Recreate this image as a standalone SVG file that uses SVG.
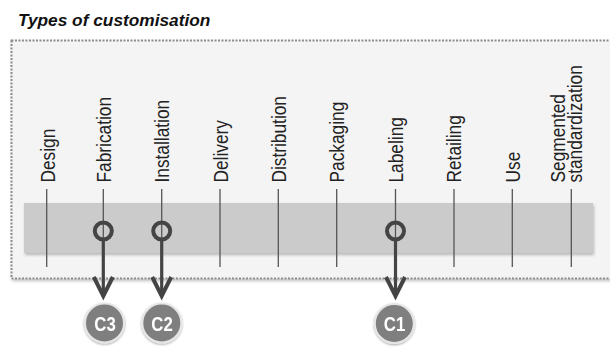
<svg xmlns="http://www.w3.org/2000/svg" width="610" height="347" viewBox="0 0 610 347">
  <style>
    .title { font-family: "Liberation Sans", Arial, sans-serif; font-size: 17.3px; font-weight: bold; font-style: italic; fill: #111; }
    .stage { font-family: "Liberation Sans", Arial, sans-serif; font-size: 20px; fill: #222; }
    .tick { stroke: #555; stroke-width: 1.3; }
    .ring { fill: none; stroke: #444; stroke-width: 4; }
    .shaft { fill: none; stroke: #444; stroke-width: 3.2; }
    .badge { fill: #7f7f7f; stroke: #e6e6e6; stroke-width: 2; }
    .badge-text { font-family: "Liberation Sans", Arial, sans-serif; font-size: 21px; font-weight: bold; fill: #fff; }
  </style>
  <defs>
    <filter id="soft" x="-10%" y="-10%" width="120%" height="130%">
      <feDropShadow dx="1" dy="2" stdDeviation="1.5" flood-color="#000" flood-opacity="0.25"/>
    </filter>
    <filter id="badgeShadow" x="-30%" y="-30%" width="160%" height="160%">
      <feDropShadow dx="0" dy="1" stdDeviation="1.2" flood-color="#000" flood-opacity="0.35"/>
    </filter>
    <marker id="chevron" markerUnits="userSpaceOnUse" markerWidth="30" markerHeight="30" refX="0" refY="0" orient="auto" overflow="visible">
      <path d="M-19,-9.5 L0,0 L-19,9.5" fill="none" stroke="#444" stroke-width="4" stroke-linejoin="miter"/>
    </marker>
  </defs>

  <text class="title" x="18" y="25.7">Types of customisation</text>

  <!-- outer dotted frame -->
  <g id="frame">
    <rect x="11.5" y="40.5" width="610" height="238" fill="#f4f4f4" stroke="#8c8c8c" stroke-width="2" stroke-dasharray="2 1.5" filter="url(#soft)"/>
  </g>

  <!-- shaded band behind the stage ticks -->
  <g id="band">
    <rect x="24" y="203" width="569" height="50" fill="#cbcbcb" filter="url(#soft)"/>
  </g>

  <!-- stages: label + tick -->
  <g id="stage-design">
    <line class="tick" x1="46.7" y1="189" x2="46.7" y2="267"/>
    <text class="stage" transform="translate(54.5,182.5) rotate(-90) scale(0.865,1)">Design</text>
  </g>
  <g id="stage-fabrication">
    <line class="tick" x1="103.3" y1="189" x2="103.3" y2="267"/>
    <text class="stage" transform="translate(110.5,182.5) rotate(-90) scale(0.865,1)">Fabrication</text>
  </g>
  <g id="stage-installation">
    <line class="tick" x1="161.7" y1="189" x2="161.7" y2="267"/>
    <text class="stage" transform="translate(169,182.5) rotate(-90) scale(0.865,1)">Installation</text>
  </g>
  <g id="stage-delivery">
    <line class="tick" x1="220" y1="189" x2="220" y2="267"/>
    <text class="stage" transform="translate(227.5,182.5) rotate(-90) scale(0.865,1)">Delivery</text>
  </g>
  <g id="stage-distribution">
    <line class="tick" x1="278.3" y1="189" x2="278.3" y2="267"/>
    <text class="stage" transform="translate(285.5,182.5) rotate(-90) scale(0.865,1)">Distribution</text>
  </g>
  <g id="stage-packaging">
    <line class="tick" x1="336.7" y1="189" x2="336.7" y2="267"/>
    <text class="stage" transform="translate(344,182.5) rotate(-90) scale(0.865,1)">Packaging</text>
  </g>
  <g id="stage-labeling">
    <line class="tick" x1="395.5" y1="189" x2="395.5" y2="267"/>
    <text class="stage" transform="translate(402.5,182.5) rotate(-90) scale(0.865,1)">Labeling</text>
  </g>
  <g id="stage-retailing">
    <line class="tick" x1="454" y1="189" x2="454" y2="267"/>
    <text class="stage" transform="translate(461,182.5) rotate(-90) scale(0.865,1)">Retailing</text>
  </g>
  <g id="stage-use">
    <line class="tick" x1="512.3" y1="189" x2="512.3" y2="267"/>
    <text class="stage" transform="translate(519.5,182.5) rotate(-90) scale(0.865,1)">Use</text>
  </g>
  <g id="stage-segmented">
    <line class="tick" x1="571.3" y1="189" x2="571.3" y2="267"/>
    <text class="stage" transform="translate(565,182.5) rotate(-90) scale(0.865,1)">Segmented</text>
    <text class="stage" transform="translate(581.7,182.5) rotate(-90) scale(0.865,1)">standardization</text>
  </g>

  <!-- connectors: ring on the stage, arrow down to the customisation badge -->
  <g id="connectors">
    <circle class="ring" cx="103.3" cy="231" r="8.5"/>
    <path class="shaft" d="M103.3,239.5 V296" marker-end="url(#chevron)"/>
    <circle class="ring" cx="161.7" cy="231" r="8.5"/>
    <path class="shaft" d="M161.7,239.5 V296" marker-end="url(#chevron)"/>
    <circle class="ring" cx="395.5" cy="231" r="8.5"/>
    <path class="shaft" d="M395.5,239.5 V296" marker-end="url(#chevron)"/>
  </g>

  <!-- customisation badges -->
  <g id="c3" filter="url(#badgeShadow)">
    <circle class="badge" cx="104.5" cy="323" r="19.5"/>
    <text class="badge-text" text-anchor="middle" transform="translate(105,330.5) scale(0.8,1)">C3</text>
  </g>
  <g id="c2" filter="url(#badgeShadow)">
    <circle class="badge" cx="161.8" cy="323" r="19.5"/>
    <text class="badge-text" text-anchor="middle" transform="translate(162,330.5) scale(0.8,1)">C2</text>
  </g>
  <g id="c1" filter="url(#badgeShadow)">
    <circle class="badge" cx="394.3" cy="323.5" r="19.5"/>
    <text class="badge-text" text-anchor="middle" transform="translate(394.5,331) scale(0.8,1)">C1</text>
  </g>
</svg>
